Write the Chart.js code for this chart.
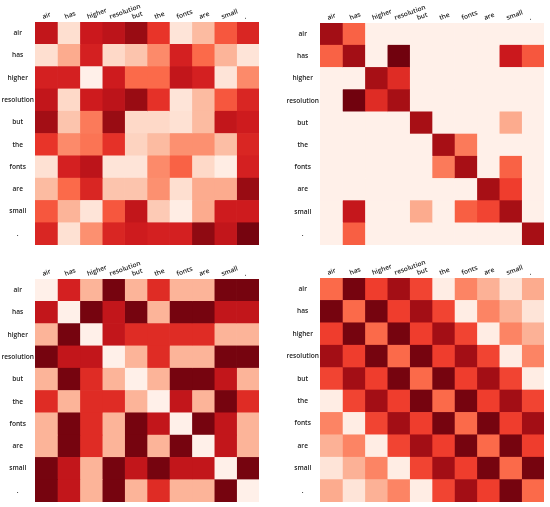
<!DOCTYPE html>
<html>
<head>
<meta charset="utf-8">
<script src="https://cdn.jsdelivr.net/npm/chart.js@4/dist/chart.umd.min.js"></script>
<style>
  html, body { margin: 0; padding: 0; background: #fff; }
  #wrap { position: relative; width: 550px; height: 507px; }
  canvas { position: absolute; }
</style>
</head>
<body>
<div id="wrap">
  <canvas id="c1" width="275" height="250" style="left:0;top:0"></canvas>
  <canvas id="c2" width="275" height="250" style="left:275px;top:0"></canvas>
  <canvas id="c3" width="275" height="252" style="left:0;top:255px"></canvas>
  <canvas id="c4" width="275" height="252" style="left:275px;top:255px"></canvas>
</div>
<script>
// tokens, used for both rows and columns
var tokens = ["air", "has", "higher", "resolution", "but", "the", "fonts", "are", "small", "."];

// attention weights (0 = white, 1 = darkest red)
var attnA = [
  [0.78, 0.13, 0.75, 0.80, 0.90, 0.65, 0.10, 0.25, 0.55, 0.70],
  [0.13, 0.30, 0.72, 0.15, 0.22, 0.40, 0.72, 0.50, 0.27, 0.10],
  [0.72, 0.72, 0.03, 0.74, 0.50, 0.50, 0.78, 0.72, 0.10, 0.40],
  [0.78, 0.15, 0.74, 0.80, 0.90, 0.66, 0.10, 0.25, 0.55, 0.70],
  [0.88, 0.22, 0.45, 0.90, 0.15, 0.15, 0.12, 0.25, 0.78, 0.74],
  [0.65, 0.40, 0.47, 0.66, 0.17, 0.25, 0.38, 0.38, 0.24, 0.70],
  [0.12, 0.72, 0.80, 0.10, 0.10, 0.40, 0.52, 0.15, 0.05, 0.72],
  [0.25, 0.50, 0.70, 0.22, 0.22, 0.38, 0.13, 0.30, 0.30, 0.90],
  [0.55, 0.27, 0.10, 0.55, 0.78, 0.20, 0.05, 0.30, 0.74, 0.74],
  [0.70, 0.12, 0.38, 0.70, 0.74, 0.72, 0.72, 0.92, 0.78, 0.97]
];
var attnB = [
  [0.88, 0.52, 0.03, 0.03, 0.03, 0.03, 0.03, 0.03, 0.03, 0.03],
  [0.52, 0.88, 0.03, 0.98, 0.03, 0.03, 0.03, 0.03, 0.75, 0.55],
  [0.03, 0.03, 0.87, 0.68, 0.03, 0.03, 0.03, 0.03, 0.03, 0.03],
  [0.03, 0.98, 0.68, 0.87, 0.03, 0.03, 0.03, 0.03, 0.03, 0.03],
  [0.03, 0.03, 0.03, 0.03, 0.87, 0.03, 0.03, 0.03, 0.30, 0.03],
  [0.03, 0.03, 0.03, 0.03, 0.03, 0.87, 0.45, 0.03, 0.03, 0.03],
  [0.03, 0.03, 0.03, 0.03, 0.03, 0.45, 0.87, 0.03, 0.52, 0.03],
  [0.03, 0.03, 0.03, 0.03, 0.03, 0.03, 0.03, 0.87, 0.62, 0.03],
  [0.03, 0.77, 0.03, 0.03, 0.30, 0.03, 0.53, 0.60, 0.87, 0.03],
  [0.03, 0.53, 0.03, 0.03, 0.03, 0.03, 0.03, 0.03, 0.03, 0.87]
];
var attnC = [
  [0.03, 0.72, 0.27, 0.97, 0.27, 0.68, 0.27, 0.27, 0.97, 0.97],
  [0.78, 0.03, 0.97, 0.78, 0.97, 0.27, 0.97, 0.97, 0.78, 0.78],
  [0.27, 0.97, 0.03, 0.78, 0.68, 0.68, 0.68, 0.68, 0.27, 0.27],
  [0.97, 0.78, 0.78, 0.03, 0.27, 0.68, 0.27, 0.27, 0.97, 0.97],
  [0.27, 0.97, 0.68, 0.27, 0.03, 0.27, 0.97, 0.97, 0.78, 0.27],
  [0.68, 0.27, 0.68, 0.68, 0.27, 0.03, 0.78, 0.27, 0.97, 0.68],
  [0.27, 0.97, 0.68, 0.27, 0.97, 0.78, 0.03, 0.97, 0.78, 0.27],
  [0.27, 0.97, 0.68, 0.27, 0.97, 0.27, 0.97, 0.03, 0.78, 0.27],
  [0.97, 0.78, 0.27, 0.97, 0.78, 0.97, 0.78, 0.78, 0.03, 0.97],
  [0.97, 0.78, 0.27, 0.97, 0.27, 0.68, 0.27, 0.27, 0.97, 0.03]
];
var attnD = [
  [0.50, 0.97, 0.62, 0.88, 0.60, 0.05, 0.42, 0.28, 0.10, 0.30],
  [0.97, 0.50, 0.97, 0.62, 0.88, 0.60, 0.05, 0.42, 0.28, 0.10],
  [0.62, 0.97, 0.50, 0.97, 0.62, 0.88, 0.60, 0.05, 0.42, 0.28],
  [0.88, 0.62, 0.97, 0.50, 0.97, 0.62, 0.88, 0.60, 0.05, 0.42],
  [0.60, 0.88, 0.62, 0.97, 0.50, 0.97, 0.62, 0.88, 0.60, 0.05],
  [0.05, 0.60, 0.88, 0.62, 0.97, 0.50, 0.97, 0.62, 0.88, 0.60],
  [0.42, 0.05, 0.60, 0.88, 0.62, 0.97, 0.50, 0.97, 0.62, 0.88],
  [0.28, 0.42, 0.05, 0.60, 0.88, 0.62, 0.97, 0.50, 0.97, 0.62],
  [0.10, 0.28, 0.42, 0.05, 0.60, 0.88, 0.62, 0.97, 0.50, 0.97],
  [0.30, 0.10, 0.28, 0.42, 0.05, 0.60, 0.88, 0.62, 0.97, 0.50]
];

// matplotlib "Reds" stops
var reds = ["#fff5f0", "#fee0d2", "#fcbba1", "#fc9272", "#fb6a4a", "#ef3b2c", "#cb181d", "#a50f15", "#67000d"];

function hex(c) {
    return [parseInt(c.substr(1, 2), 16), parseInt(c.substr(3, 2), 16), parseInt(c.substr(5, 2), 16)];
}

function redsColor(v) {
    v = Math.max(0, Math.min(1, v));
    var p = v * (reds.length - 1);
    var i = Math.min(Math.floor(p), reds.length - 2);
    var t = p - i;
    var a = hex(reds[i]), b = hex(reds[i + 1]);
    var rgb = a.map(function(x, k) { return Math.round(x + (b[k] - x) * t); });
    return "rgb(" + rgb.join(",") + ")";
}

var labelFont = { family: "'Open Sans'", size: 6.6, weight: "600" };

function heatmap(id, matrix, yWidth, xHeight, pad) {
    // one stacked horizontal bar per row, one dataset per column
    var datasets = tokens.map(function(col, j) {
        return {
            label: col,
            data: tokens.map(function() { return 1; }),
            backgroundColor: matrix.map(function(row) { return redsColor(row[j]); }),
            borderWidth: 0,
            barPercentage: 1,
            categoryPercentage: 1
        };
    });

    new Chart(document.getElementById(id), {
        type: "bar",
        data: { labels: tokens, datasets: datasets },
        options: {
            indexAxis: "y",
            responsive: false,
            animation: false,
            layout: { padding: pad },
            plugins: { legend: { display: false }, tooltip: { enabled: false } },
            scales: {
                x: { stacked: true, min: 0, max: 10, display: false },
                xt: {
                    type: "category",
                    position: "top",
                    labels: tokens,
                    offset: true,
                    grid: { display: false, drawTicks: false },
                    border: { display: false },
                    ticks: {
                        minRotation: 20, maxRotation: 20, autoSkip: false,
                        labelOffset: -1, padding: 1,
                        font: labelFont, color: "#1a1a1a"
                    },
                    afterFit: function(s) { s.height = xHeight; }
                },
                y: {
                    stacked: true,
                    grid: { display: false, drawTicks: false },
                    border: { display: false },
                    ticks: { crossAlign: "center", padding: 1, autoSkip: false, font: labelFont, color: "#1a1a1a" },
                    afterFit: function(s) { s.width = yWidth; }
                }
            }
        }
    });
}

heatmap("c1", attnA, 35, 22, { left: 0, top: 0, right: 16, bottom: 4 });
heatmap("c2", attnB, 45, 23, { left: 0, top: 0, right: 6, bottom: 4 });
heatmap("c3", attnC, 35, 24, { left: 0, top: 0, right: 16, bottom: 5 });
heatmap("c4", attnD, 45, 23, { left: 0, top: 0, right: 6, bottom: 5 });
</script>
</body>
</html>
